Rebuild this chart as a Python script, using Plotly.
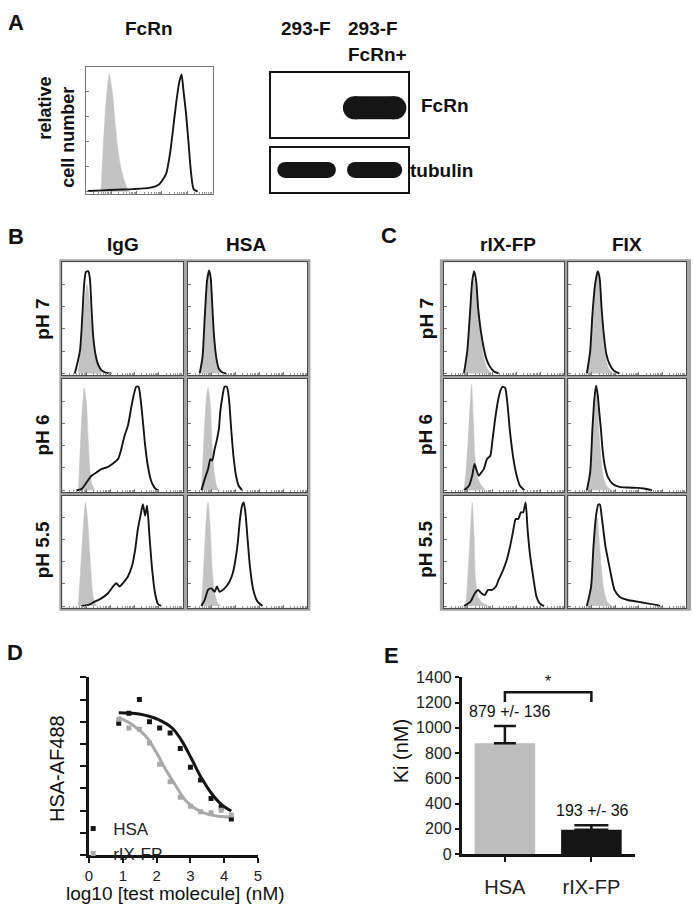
import plotly.graph_objects as go

W, H = 693, 919
FONT = "Liberation Sans, Arial, Helvetica, sans-serif"
INK = "#151515"
CTRL_GREY = "#c3c3c3"
FIT_GREY = "#a9a9a9"

# ---------------- A: FcRn surface staining (x, y in % of panel) ----------------
a_ctrl = ([11.8, 13.7, 15.8, 17.4, 18.4, 21.1, 22.9, 25.0, 27.6, 30.3, 32.9, 34.2],
          [0, 38, 72, 88, 94, 77, 56, 35, 19, 8.5, 2, 0])
a_fcrn = ([1.3, 13.2, 23.7, 36.8, 50, 57.9, 63.2, 66.3, 68.9, 71.1, 73.7, 75.5, 77.1, 78.9, 81.1, 82.9, 85, 88.2],
          [0.5, 1, 1.5, 2, 3, 6, 14, 30, 51, 70, 88, 94, 80, 64, 38, 16, 2, 0])

# western blot: lane centres and band lengths (lane units)
blot_lane_center = [0.52, 1.51]
fcrn_band = [0.0, 0.92]
tubulin_band = [0.85, 0.80]

# ---------------- B: IgG / HSA binding ----------------
igg_ph7_ctrl = ([13, 16, 18.5, 20.5, 22, 24, 27, 30, 33], [0, 30, 65, 80, 70, 45, 20, 6, 0])
igg_ph7 = ([10.4, 14.6, 16.5, 18.1, 19.5, 21.4, 22.8, 24.2, 25.5, 27.5, 29.7, 32.4, 36.5, 40.7],
           [0, 20, 50, 80, 91, 92, 86, 59, 35, 17, 8, 3, 0.5, 0])
igg_ph6_ctrl = ([12.6, 13.2, 14.6, 15.9, 17.3, 18.1, 20.1, 21.4, 22.8, 24.2, 26.9],
                [0, 1, 31, 61, 83, 92, 77, 46, 19, 7, 0])
igg_ph6 = ([11.8, 15.9, 20.1, 24.2, 28.3, 32.4, 37.9, 42.0, 46.2, 48.9, 51.6, 54.4, 57.1, 59.3, 61.3, 63.2,
            64.8, 66.8, 68.7, 70.9, 73.6, 76.4, 79.1],
           [0, 1, 7, 13, 16, 19, 21, 24, 28, 37, 49, 58, 74, 86, 93, 93, 83, 62, 40, 22, 8.5, 2.4, 0])
igg_ph55_ctrl = ([13.2, 15.0, 17.0, 18.5, 19.2, 20.9, 22.8, 24.2, 25.5, 28.3],
                 [0, 30, 65, 88, 94, 79, 48, 24, 8.5, 0])
igg_ph55 = ([15.9, 21.4, 26.9, 32.4, 37.9, 42.0, 44.8, 47.5, 50.3, 54.4, 57.7, 60.4, 62.6, 64.8, 66.8, 68.7,
             70.3, 72.3, 74.5, 76.9, 79.1, 81.9],
            [0, 1, 4, 7, 11.6, 17.7, 20.7, 17.7, 20.7, 26.8, 36, 51, 69.5, 82, 92.4, 82, 91, 63, 33, 11.6, 2.4, 0])

hsa_ph7_ctrl = ([11, 13.5, 15.5, 17.5, 19.5, 21.5, 24, 27], [0, 30, 70, 88, 75, 40, 10, 0])
hsa_ph7 = ([9.9, 12.2, 14.1, 16.0, 17.7, 19.1, 20.4, 21.8, 23.8, 26.0, 29.3, 32.0],
           [0, 14, 50, 83, 92.5, 86, 62, 35, 14, 4, 0.6, 0])
hsa_ph6_ctrl = ([11.3, 12.7, 14.1, 15.5, 16.9, 18.8, 20.4, 22.4, 23.8, 25.1, 27.5],
                [0, 30, 60, 83, 92, 77, 37.5, 13, 5, 1, 0])
hsa_ph6 = ([11.3, 14.1, 16.9, 18.8, 20.4, 22.4, 23.8, 26.0, 27.1, 28.7, 30.7, 32.6, 34.3, 36.2, 38.1, 40.3,
            42.5, 45.3],
           [0, 10, 19, 28, 26.7, 37, 43, 55.5, 70.6, 82.7, 93, 93, 83, 55.5, 31, 13, 4, 0])
hsa_ph55_ctrl = ([11.3, 13, 14.5, 15.8, 16.9, 18.8, 20.4, 22.4, 25.1, 27.9],
                 [0, 30, 62, 85, 94, 69.5, 33, 11.6, 2.4, 0])
hsa_ph55 = ([11.3, 14.1, 16.9, 19.6, 22.4, 24.3, 26.5, 30.7, 34.8, 37.6, 39.8, 41.7, 43.6, 45.3, 46.7, 48.1,
             50.0, 51.9, 54.7, 58.3, 62.4],
            [0, 5.5, 14.6, 16, 13, 17.7, 13, 16, 22, 30, 42, 57, 79, 91, 94, 85, 60, 36, 14.6, 4, 0])

# ---------------- C: rIX-FP / FIX binding ----------------
rix_ph7_ctrl = ([18, 20.5, 23, 25, 27, 29, 31, 33, 36, 40], [0, 30, 70, 85, 75, 50, 30, 15, 4, 0])
rix_ph7 = ([16.7, 19.4, 21.6, 23.5, 25.1, 26.8, 28.4, 30.3, 32.5, 35.0, 37.7, 41.3, 45.4],
           [0, 20, 53, 83, 92, 83, 59, 41, 26, 14, 7, 2, 0])
rix_ph6_ctrl = ([16.7, 18.0, 20.2, 21.9, 23.0, 24.3, 25.7, 27.6, 30.3, 34.4],
                [0, 13, 46, 80, 95, 67.6, 31, 13, 5.5, 0])
rix_ph6 = ([16.7, 20.8, 23.5, 25.4, 26.8, 29.0, 31.1, 33.1, 35.8, 38.5, 40.4, 42.6, 44.8, 46.7, 48.6, 50.8,
            52.5, 54.9, 57.7, 60.4, 63.1, 66.7],
           [0, 4, 13, 23.6, 19, 13, 16, 19, 28, 31, 46, 64.5, 80, 89, 93, 92, 80, 52, 28, 13, 4, 0])
rix_ph55_ctrl = ([18.0, 19.4, 21.3, 22.7, 23.5, 25.1, 26.2, 28.4, 31.7, 37.2],
                 [0, 17.7, 54, 82, 94, 63, 24, 8.5, 3, 0])
rix_ph55 = ([16.7, 22.1, 25.7, 28.4, 31.1, 33.9, 36.6, 39.9, 43.2, 45.4, 48.1, 50.3, 52.2, 54.9, 57.1, 59.6,
             61.7, 63.9, 65.8, 67.8, 69.4, 71.3, 74.0, 76.8, 79.5, 83.1],
            [0, 4, 11.6, 14.6, 11.6, 10, 14.6, 14.6, 17.7, 23.8, 30, 36, 42, 54, 66, 79, 79, 85, 85, 94, 70, 48,
             27, 8.5, 2.4, 0])

fix_ph7_ctrl = ([16.5, 19, 21, 23, 25, 27, 29, 31, 34, 38], [0, 25, 60, 82, 88, 70, 40, 18, 5, 0])
fix_ph7 = ([15.7, 18.5, 20.4, 22.7, 24.9, 26.5, 28.2, 30.1, 32.3, 35.1, 38.7, 43.4],
           [0, 20, 53, 80, 92, 86, 59, 35, 17, 8, 2.4, 0])
fix_ph6_ctrl = ([16, 19, 21, 22.5, 23.5, 25, 26.5, 28, 30, 33, 37], [0, 25, 60, 82, 88, 75, 45, 25, 10, 3, 0])
fix_ph6 = ([15.7, 18.5, 20.4, 22.1, 23.5, 24.9, 26.2, 27.6, 29.0, 30.9, 33.7, 37.8, 43.4, 50.3, 58.6, 64.1, 71.0],
           [0, 16, 55, 82.7, 94, 86, 70.6, 55.5, 37, 22, 11.5, 5.5, 3, 2.4, 2.1, 1.5, 0])
fix_ph55_ctrl = ([17, 19.5, 21.5, 23, 24.5, 26, 28, 30, 33, 37], [0, 25, 60, 78, 80, 62, 35, 15, 4, 0])
fix_ph55 = ([15.7, 19.3, 21.3, 23.5, 25.4, 26.8, 28.2, 29.6, 31.5, 33.7, 35.9, 39.2, 43.4, 50.3, 58.6, 66.9,
             75.1, 77.9],
            [0, 17.7, 54, 82, 92, 92, 82, 70, 54, 42, 30, 14.6, 8.5, 5.5, 4, 2.4, 1, 0])

# ---------------- D: competition curves ----------------
log_conc = [0.88, 1.18, 1.49, 1.79, 2.09, 2.40, 2.70, 3.00, 3.30, 3.61, 3.91, 4.21]
hsa_signal = [5.93, 6.38, 7.0, 6.0, 5.72, 5.5, 4.8, 3.95, 3.38, 2.55, 2.15, 1.62]
rix_signal = [6.12, 5.72, 5.66, 5.05, 4.09, 3.3, 2.6, 2.2, 1.95, 1.9, 2.02, 1.8]
hsa_fit_x = [0.88, 1.48, 2.07, 2.46, 2.75, 3.04, 3.34, 3.63, 3.92, 4.21]
hsa_fit_y = [6.41, 6.35, 6.09, 5.72, 5.13, 4.31, 3.43, 2.76, 2.27, 1.98]
rix_fit_x = [0.88, 1.29, 1.68, 1.97, 2.26, 2.56, 2.85, 3.14, 3.53, 3.92, 4.21]
rix_fit_y = [6.2, 5.86, 5.35, 4.68, 3.87, 3.13, 2.47, 2.1, 1.83, 1.73, 1.7]

# ---------------- E: Ki ----------------
ki_groups = ["HSA", "rIX-FP"]
ki_mean = [879, 193]
ki_sem = [136, 36]
ki_colors = ["#bdbdbd", INK]
bracket_top, bracket_leg = 1283, 1205


def xd(a, b):
    return [a / W, b / W]


def yd(top, bottom):
    return [1 - bottom / H, 1 - top / H]


def aid(n):
    return "" if n == 1 else str(n)


fig = go.Figure()
layout = {}
shapes = []

hist_x_minor = [20 * d + 20 * k for d in range(5) for k in (0.301, 0.477, 0.602, 0.699, 0.778, 0.845, 0.903, 0.954)]


def hist_axes(n, xpx, ypx, linecolor="#4a4a4a"):
    layout["xaxis" + aid(n)] = dict(
        domain=xd(*xpx), anchor="y" + aid(n), range=[0, 100], showline=True, mirror=True,
        linecolor=linecolor, linewidth=1, ticks="inside", ticklen=3, tickcolor="#777",
        tickvals=[0, 20, 40, 60, 80, 100], showticklabels=False, showgrid=False, zeroline=False,
        minor=dict(ticks="inside", ticklen=2, tickcolor="#999", tickvals=hist_x_minor))
    layout["yaxis" + aid(n)] = dict(
        domain=yd(*ypx), anchor="x" + aid(n), range=[-1.5, 100], showline=True, mirror=True,
        linecolor=linecolor, linewidth=1, ticks="inside", ticklen=3, tickcolor="#777",
        tickvals=[0, 20, 40, 60, 80], showticklabels=False, showgrid=False, zeroline=False)


def hist_traces(n, ctrl, sample):
    fig.add_trace(go.Scatter(x=ctrl[0], y=ctrl[1], mode="lines", fill="tozeroy", fillcolor=CTRL_GREY,
                             line=dict(color=CTRL_GREY, width=0.5, shape="spline", smoothing=0.6),
                             xaxis="x" + aid(n), yaxis="y" + aid(n), showlegend=False, hoverinfo="skip"))
    fig.add_trace(go.Scatter(x=sample[0], y=sample[1], mode="lines",
                             line=dict(color=INK, width=1.9, shape="spline", smoothing=0.6),
                             xaxis="x" + aid(n), yaxis="y" + aid(n), showlegend=False, hoverinfo="skip"))


# A histogram
hist_axes(1, (83, 211), (60, 189), linecolor="#777")
hist_traces(1, a_ctrl, a_fcrn)

# A blots: each band is a thick line with round ends (px per lane unit = 139 / 2)
px_per_lane = (409 - 270) / 2
for n, ypx, bands, row, thick in [(2, (66, 131), fcrn_band, 0.45, 23), (3, (143, 187), tubulin_band, 0.5, 16)]:
    layout["xaxis" + aid(n)] = dict(domain=xd(270, 409), anchor="y" + aid(n), range=[0, 2], showline=True,
                                    mirror=True, linecolor=INK, linewidth=1.5, showticklabels=False,
                                    ticks="", showgrid=False, zeroline=False)
    layout["yaxis" + aid(n)] = dict(domain=yd(*ypx), anchor="x" + aid(n), range=[0, 1], showline=True,
                                    mirror=True, linecolor=INK, linewidth=1.5, showticklabels=False,
                                    ticks="", showgrid=False, zeroline=False)
    inset = thick / 2 / px_per_lane
    for c, length in zip(blot_lane_center, bands):
        if length <= 0:
            continue
        fig.add_trace(go.Scatter(x=[c - length / 2 + inset, c + length / 2 - inset], y=[row, row],
                                 mode="lines+markers", line=dict(color=INK, width=thick),
                                 marker=dict(color=INK, size=thick, line=dict(width=0)),
                                 xaxis="x" + aid(n), yaxis="y" + aid(n), showlegend=False, hoverinfo="skip"))

# B and C grids
rows_px = [(259, 374), (378, 493), (497, 611)]
b_cols = [(59, 181), (186, 307)]
c_cols = [(445, 567), (571, 690)]
b_grid = [[(igg_ph7_ctrl, igg_ph7), (hsa_ph7_ctrl, hsa_ph7)],
          [(igg_ph6_ctrl, igg_ph6), (hsa_ph6_ctrl, hsa_ph6)],
          [(igg_ph55_ctrl, igg_ph55), (hsa_ph55_ctrl, hsa_ph55)]]
c_grid = [[(rix_ph7_ctrl, rix_ph7), (fix_ph7_ctrl, fix_ph7)],
          [(rix_ph6_ctrl, rix_ph6), (fix_ph6_ctrl, fix_ph6)],
          [(rix_ph55_ctrl, rix_ph55), (fix_ph55_ctrl, fix_ph55)]]

frame_grey = "#a3a3a3"
for (x0, x1) in [(56, 310), (441, 695)]:
    shapes.append(dict(type="rect", xref="paper", yref="paper", x0=x0 / W, x1=x1 / W, y0=1 - 614 / H,
                       y1=1 - 256 / H, fillcolor=frame_grey, line=dict(width=0), layer="below"))

n = 4
for cols, grid in [(b_cols, b_grid), (c_cols, c_grid)]:
    for r, ypx in enumerate(rows_px):
        for c, xpx in enumerate(cols):
            shapes.append(dict(type="rect", xref="paper", yref="paper", x0=xpx[0] / W, x1=xpx[1] / W,
                               y0=1 - ypx[1] / H, y1=1 - ypx[0] / H, fillcolor="white",
                               line=dict(width=0), layer="below"))
            hist_axes(n, xpx, ypx)
            hist_traces(n, *grid[r][c])
            n += 1

# D
fig.add_trace(go.Scatter(x=hsa_fit_x, y=hsa_fit_y, mode="lines", line=dict(color=INK, width=3, shape="spline"),
                         xaxis="x16", yaxis="y16", showlegend=False, hoverinfo="skip"))
fig.add_trace(go.Scatter(x=rix_fit_x, y=rix_fit_y, mode="lines", line=dict(color=FIT_GREY, width=3, shape="spline"),
                         xaxis="x16", yaxis="y16", showlegend=False, hoverinfo="skip"))
fig.add_trace(go.Scatter(x=log_conc, y=hsa_signal, mode="markers", name="HSA",
                         marker=dict(color=INK, size=5, symbol="square"), xaxis="x16", yaxis="y16"))
fig.add_trace(go.Scatter(x=log_conc, y=rix_signal, mode="markers", name="rIX-FP",
                         marker=dict(color=FIT_GREY, size=5, symbol="square"), xaxis="x16", yaxis="y16"))
layout["xaxis16"] = dict(domain=xd(86, 257), anchor="y16", range=[0, 5], tickvals=[0, 1, 2, 3, 4, 5],
                         showline=True, linecolor=INK, linewidth=2.5, ticks="outside", ticklen=5, tickwidth=2,
                         tickcolor=INK, tickfont=dict(family=FONT, size=15, color="#222"), showgrid=False,
                         zeroline=False)
layout["yaxis16"] = dict(domain=yd(682, 863), anchor="x16", range=[0, 8], tickvals=list(range(9)),
                         showline=True, linecolor=INK, linewidth=2.5, ticks="outside", ticklen=6, tickwidth=2,
                         tickcolor=INK, showticklabels=False, showgrid=False, zeroline=False)

# E
for i, g in enumerate(ki_groups):
    fig.add_trace(go.Bar(x=[g], y=[ki_mean[i]], width=0.7, marker=dict(color=ki_colors[i], line=dict(width=0)),
                         error_y=dict(type="data", symmetric=False, array=[ki_sem[i]], arrayminus=[0],
                                      color=INK, thickness=2.5, width=11 if i == 0 else 17),
                         xaxis="x17", yaxis="y17", showlegend=False, hoverinfo="skip"))
fig.add_trace(go.Scatter(x=[ki_groups[0], ki_groups[0], ki_groups[1], ki_groups[1]],
                         y=[bracket_leg, bracket_top, bracket_top, bracket_leg], mode="lines",
                         line=dict(color=INK, width=2.5), xaxis="x17", yaxis="y17", showlegend=False,
                         hoverinfo="skip"))
layout["xaxis17"] = dict(domain=xd(463, 638), anchor="y17", type="category", range=[-0.5, 1.5],
                         showline=True, linecolor=INK, linewidth=2.5, ticks="outside", ticklen=5, tickwidth=2,
                         tickcolor=INK, tickfont=dict(family=FONT, size=20, color="#222"),
                         ticklabelstandoff=8, showgrid=False, zeroline=False)
layout["yaxis17"] = dict(domain=yd(682, 862), anchor="x17", range=[0, 1400], dtick=200, tick0=0,
                         showline=True, linecolor=INK, linewidth=2.5, ticks="outside", ticklen=4, tickwidth=2,
                         tickcolor=INK, tickfont=dict(family=FONT, size=16, color="#222"), showgrid=False,
                         zeroline=False)

annotations = []


def label(text, x, y, size, bold=True, angle=0, xanchor="center"):
    annotations.append(dict(text=f"<b>{text}</b>" if bold else text, x=x / W, y=1 - y / H, xref="paper",
                            yref="paper", showarrow=False, textangle=angle, xanchor=xanchor, yanchor="middle",
                            font=dict(family=FONT, size=size, color="#111")))


label("A", 2, 15, 22, xanchor="left")
label("FcRn", 147, 21, 19)
label("relative", 42, 102, 18, angle=-90)
label("cell number", 64, 132, 18, angle=-90)
label("293-F", 306, 21, 19)
label("293-F", 346, 21, 19, xanchor="left")
label("FcRn+", 346, 47, 19, xanchor="left")
label("FcRn", 420, 99, 19, xanchor="left")
label("tubulin", 409, 166, 19, xanchor="left")

label("B", 2, 233, 22, xanchor="left")
label("IgG", 120, 241, 19)
label("HSA", 245, 241, 19)
label("C", 379, 232, 22, xanchor="left")
label("rIX-FP", 510, 241, 19)
label("FIX", 630, 241, 19)
for ph, yc in zip(["pH 7", "pH 6", "pH 5.5"], [317, 435, 552]):
    label(ph, 39, yc, 19, angle=-90)
    label(ph, 427, yc, 19, angle=-90)

label("D", 1, 657, 22, xanchor="left")
label("HSA-AF488", 53, 775, 20, bold=False, angle=-90)
label("log10 [test molecule] (nM)", 173, 902, 19, bold=False)
label("E", 382, 660, 22, xanchor="left")
label("Ki (nM)", 402, 757, 20, bold=False, angle=-90)

for i, g in enumerate(ki_groups):
    annotations.append(dict(text=f"{ki_mean[i]} +/- {ki_sem[i]}", x=g, y=ki_mean[i] + ki_sem[i] + 30,
                            xref="x17", yref="y17", xshift=5 if i == 0 else 1, showarrow=False,
                            yanchor="bottom", font=dict(family=FONT, size=16, color="#111")))
annotations.append(dict(text="*", x=0.5, y=bracket_top, xref="x17", yref="y17", showarrow=False,
                        yanchor="bottom", font=dict(family=FONT, size=16, color="#111")))

fig.update_layout(
    width=W, height=H, margin=dict(l=0, r=0, t=0, b=0, pad=0),
    paper_bgcolor="white", plot_bgcolor="white", barmode="overlay",
    font=dict(family=FONT, color="#111"),
    showlegend=True,
    legend=dict(x=70 / W, y=1 - 818 / H, xanchor="left", yanchor="top", bgcolor="rgba(0,0,0,0)",
                font=dict(family=FONT, size=17, color="#222"), tracegroupgap=0),
    shapes=shapes, annotations=annotations,
    **layout,
)

fig.write_html("out.html", config={"displayModeBar": False},
               post_script="document.body.style.margin='0';")
